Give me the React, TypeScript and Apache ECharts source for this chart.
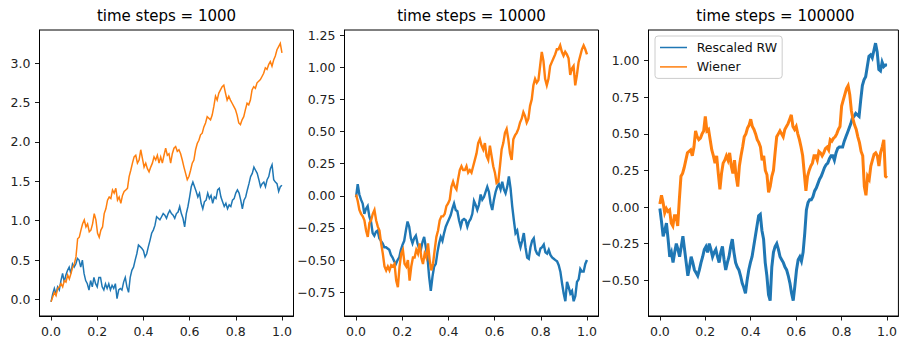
import React, { useEffect, useRef } from 'react';
import * as echarts from 'echarts';

const TITLES = ['time steps = 1000', 'time steps = 10000', 'time steps = 100000'];
const SERIES_NAMES = ['Rescaled RW', 'Wiener'];
const X_TICKS = [0, 0.2, 0.4, 0.6, 0.8, 1.0];
const Y_TICKS = [
  [0, 0.5, 1, 1.5, 2, 2.5, 3],
  [-0.75, -0.5, -0.25, 0, 0.25, 0.5, 0.75, 1, 1.25],
  [-0.5, -0.25, 0, 0.25, 0.5, 0.75, 1],
];
const Y_LIMITS = [[-0.21, 3.42], [-0.935, 1.29], [-0.745, 1.21]];
const Y_DECIMALS = [1, 2, 2];

// time steps = 1000
const P1_RW = [-0.03,0.07,0.14,0.07,0.16,0.12,0.24,0.33,0.22,0.31,0.37,0.41,0.33,0.45,0.41,0.45,0.52,0.5,0.41,0.5,0.33,0.24,0.2,0.12,0.24,0.16,0.28,0.2,0.16,0.28,0.28,0.16,0.12,0.2,0.14,0.2,0.12,0.18,0.14,0.2,0.01,0.12,0.14,0.12,0.22,0.28,0.16,0.09,0.28,0.37,0.41,0.5,0.58,0.69,0.67,0.65,0.62,0.54,0.58,0.67,0.75,0.84,0.88,0.94,1.05,1.03,1.01,1.05,1.09,1.07,1.03,1.09,1.13,1.09,1.07,1.03,1.09,1.11,1.18,1.09,1.03,0.92,1.09,1.18,1.3,1.43,1.49,1.43,1.37,1.3,1.35,1.22,1.15,1.24,1.26,1.35,1.28,1.32,1.22,1.3,1.28,1.39,1.41,1.3,1.24,1.18,1.22,1.15,1.2,1.18,1.26,1.28,1.35,1.39,1.35,1.26,1.15,1.26,1.3,1.39,1.47,1.56,1.6,1.68,1.64,1.6,1.52,1.43,1.47,1.49,1.43,1.52,1.56,1.66,1.71,1.52,1.49,1.47,1.37,1.43,1.45];
const P1_W = [-0.03,0.03,0.09,0.05,0.14,0.16,0.2,0.16,0.24,0.22,0.31,0.26,0.33,0.41,0.45,0.54,0.77,0.79,0.88,0.96,1.01,0.92,0.96,0.86,0.88,0.96,1.09,1.01,0.84,0.79,0.88,0.92,1.09,1.15,1.26,1.3,1.28,1.39,1.35,1.41,1.26,1.3,1.22,1.32,1.37,1.39,1.41,1.56,1.64,1.73,1.81,1.83,1.73,1.77,1.9,1.79,1.68,1.73,1.66,1.62,1.68,1.73,1.81,1.77,1.83,1.73,1.81,1.73,1.83,1.92,1.83,1.85,1.73,1.85,1.92,1.94,1.88,1.9,1.85,1.77,1.68,1.6,1.52,1.56,1.64,1.73,1.77,1.9,1.98,2.02,2.09,2.11,2.19,2.24,2.32,2.3,2.28,2.34,2.45,2.58,2.53,2.62,2.66,2.7,2.72,2.62,2.53,2.58,2.53,2.49,2.45,2.41,2.34,2.24,2.22,2.28,2.32,2.41,2.49,2.47,2.53,2.66,2.7,2.68,2.75,2.77,2.79,2.83,2.87,2.94,2.92,2.98,3.02,2.96,3.04,3.09,3.17,3.21,3.25,3.13];

// time steps = 10000
const P2_RW = [-0.01,0.09,0.01,-0.03,-0.06,-0.14,-0.1,-0.08,-0.16,-0.2,-0.29,-0.31,-0.28,-0.27,-0.33,-0.35,-0.37,-0.4,-0.4,-0.41,-0.42,-0.46,-0.48,-0.51,-0.53,-0.5,-0.48,-0.42,-0.38,-0.35,-0.27,-0.2,-0.24,-0.33,-0.37,-0.33,-0.31,-0.37,-0.41,-0.42,-0.36,-0.32,-0.4,-0.48,-0.63,-0.74,-0.63,-0.55,-0.53,-0.44,-0.37,-0.32,-0.35,-0.29,-0.24,-0.21,-0.18,-0.15,-0.1,-0.06,-0.11,-0.12,-0.19,-0.24,-0.19,-0.18,-0.19,-0.24,-0.2,-0.18,-0.14,-0.04,-0.07,-0.11,-0.07,0.01,-0.03,-0.01,0.03,0.07,0.03,-0.06,-0.11,-0.03,0.03,0.07,0.09,0.05,0.11,0.05,0.02,0.07,0.15,0.06,-0.08,-0.19,-0.29,-0.27,-0.35,-0.4,-0.35,-0.29,-0.4,-0.48,-0.49,-0.4,-0.35,-0.33,-0.42,-0.45,-0.46,-0.41,-0.4,-0.38,-0.44,-0.45,-0.42,-0.46,-0.48,-0.49,-0.5,-0.51,-0.54,-0.59,-0.68,-0.76,-0.82,-0.67,-0.71,-0.76,-0.74,-0.82,-0.78,-0.67,-0.65,-0.57,-0.59,-0.59,-0.53,-0.5];
const P2_W = [0.01,-0.04,-0.11,-0.14,-0.16,-0.19,-0.27,-0.32,-0.21,-0.19,-0.14,-0.11,-0.19,-0.24,-0.27,-0.37,-0.45,-0.55,-0.58,-0.55,-0.58,-0.54,-0.55,-0.53,-0.66,-0.71,-0.55,-0.45,-0.42,-0.53,-0.55,-0.5,-0.66,-0.55,-0.48,-0.48,-0.42,-0.45,-0.37,-0.48,-0.53,-0.45,-0.48,-0.37,-0.5,-0.58,-0.53,-0.42,-0.32,-0.27,-0.19,-0.16,-0.16,-0.14,-0.08,-0.06,-0.03,0.07,0.11,0.07,0.05,0.13,0.2,0.23,0.2,0.2,0.23,0.18,0.2,0.18,0.23,0.28,0.33,0.41,0.44,0.39,0.36,0.41,0.31,0.28,0.39,0.31,0.23,0.18,0.1,0.11,0.23,0.36,0.41,0.49,0.52,0.44,0.33,0.28,0.44,0.47,0.49,0.52,0.57,0.6,0.65,0.62,0.57,0.6,0.7,0.75,0.86,0.91,0.88,0.9,1.01,1.12,1.05,0.91,0.86,0.91,1.01,1.04,1.07,1.1,1.14,1.14,1.17,1.12,1.09,1.12,1.1,1.07,0.94,0.99,1.01,0.86,0.94,1.04,1.09,1.14,1.17,1.14,1.1];

// time steps = 100000
const P3_RW = [-0.01,-0.1,-0.2,-0.16,-0.11,-0.22,-0.34,-0.31,-0.38,-0.31,-0.25,-0.29,-0.34,-0.27,-0.2,-0.29,-0.38,-0.47,-0.41,-0.34,-0.38,-0.43,-0.45,-0.47,-0.43,-0.38,-0.34,-0.29,-0.27,-0.31,-0.25,-0.29,-0.34,-0.31,-0.29,-0.34,-0.38,-0.31,-0.27,-0.36,-0.43,-0.38,-0.34,-0.27,-0.22,-0.31,-0.38,-0.41,-0.43,-0.47,-0.52,-0.55,-0.59,-0.5,-0.43,-0.38,-0.34,-0.27,-0.2,-0.13,-0.06,-0.05,-0.16,-0.22,-0.38,-0.47,-0.6,-0.64,-0.41,-0.31,-0.27,-0.25,-0.29,-0.34,-0.36,-0.38,-0.41,-0.43,-0.47,-0.52,-0.59,-0.64,-0.54,-0.43,-0.36,-0.34,-0.37,-0.31,-0.18,-0.02,0.03,0.05,0.05,0.07,0.11,0.13,0.16,0.19,0.21,0.24,0.27,0.29,0.3,0.33,0.35,0.35,0.32,0.37,0.4,0.41,0.41,0.41,0.45,0.48,0.51,0.54,0.57,0.61,0.62,0.64,0.63,0.62,0.73,0.83,0.87,0.89,0.96,1.03,1.04,1.02,1.07,1.12,1.06,0.94,0.93,0.99,0.96,0.97,0.97];
const P3_W = [0.02,0.08,0.03,-0.04,-0.01,-0.03,-0.02,-0.11,-0.13,-0.06,-0.06,-0.13,0.05,0.21,0.23,0.27,0.32,0.37,0.38,0.39,0.35,0.41,0.52,0.48,0.46,0.47,0.5,0.52,0.62,0.52,0.53,0.46,0.39,0.35,0.3,0.35,0.23,0.12,0.23,0.3,0.32,0.35,0.32,0.37,0.28,0.23,0.32,0.21,0.14,0.28,0.35,0.41,0.48,0.5,0.54,0.56,0.6,0.55,0.53,0.5,0.46,0.44,0.41,0.32,0.35,0.25,0.22,0.1,0.14,0.21,0.25,0.37,0.48,0.5,0.52,0.5,0.48,0.53,0.55,0.57,0.6,0.63,0.55,0.53,0.55,0.5,0.46,0.41,0.35,0.23,0.11,0.21,0.25,0.28,0.3,0.35,0.35,0.32,0.38,0.37,0.35,0.37,0.4,0.41,0.39,0.46,0.45,0.47,0.48,0.5,0.53,0.55,0.69,0.73,0.77,0.81,0.83,0.77,0.66,0.6,0.56,0.53,0.48,0.44,0.38,0.35,0.14,0.08,0.21,0.19,0.28,0.32,0.36,0.37,0.35,0.28,0.37,0.41,0.46,0.21,0.2];

const RW_DATA = [P1_RW, P2_RW, P3_RW];
const W_DATA = [P1_W, P2_W, P3_W];

const FONT = 'DejaVu Sans';
const BLUE = '#1f77b4';
const ORANGE = '#ff7f0e';
const GRID_LEFTS = [39.5, 344.5, 648.5];
const GRID_W = 254;
const GRID_TOP = 30;
const GRID_H = 286;
const LINE_W = [1.5, 2.4, 3.0];

const toPts = (ys: number[]) => ys.map((y, i) => [i / (ys.length - 1), y]);
const fmt = (v: number, d: number) => (v < 0 ? '\u2212' : '') + Math.abs(v).toFixed(d);

function buildOption() {
  const grid = GRID_LEFTS.map((left) => ({
    left, top: GRID_TOP, width: GRID_W, height: GRID_H,
    show: true, borderColor: '#000', borderWidth: 1, backgroundColor: 'transparent',
  }));
  const xAxis = GRID_LEFTS.map((_, i) => ({
    type: 'value', gridIndex: i, min: -0.05, max: 1.05,
    axisLine: { show: true, onZero: false, lineStyle: { color: '#000', width: 1 } },
    splitLine: { show: false },
    axisTick: { show: true, inside: false, length: 4.5, customValues: X_TICKS, lineStyle: { color: '#000', width: 0.9 } },
    axisLabel: { customValues: X_TICKS, formatter: (v: number) => fmt(v, 1), color: '#222', fontSize: 12.5, fontFamily: FONT, margin: 9 },
  }));
  const yAxis = GRID_LEFTS.map((_, i) => ({
    type: 'value', gridIndex: i, min: Y_LIMITS[i][0], max: Y_LIMITS[i][1],
    axisLine: { show: true, onZero: false, lineStyle: { color: '#000', width: 1 } },
    splitLine: { show: false },
    axisTick: { show: true, inside: false, length: 4.5, customValues: Y_TICKS[i], lineStyle: { color: '#000', width: 0.9 } },
    axisLabel: { customValues: Y_TICKS[i], formatter: (v: number) => fmt(v, Y_DECIMALS[i]), color: '#222', fontSize: 12.5, fontFamily: FONT, margin: 9 },
  }));
  const series: any[] = [];
  for (let i = 0; i < 3; i++) {
    series.push({
      type: 'line', name: SERIES_NAMES[0], xAxisIndex: i, yAxisIndex: i,
      data: toPts(RW_DATA[i]), showSymbol: false, symbol: 'none',
      lineStyle: { color: BLUE, width: LINE_W[i], join: 'miter' }, itemStyle: { color: BLUE }, z: 2,
    });
    series.push({
      type: 'line', name: SERIES_NAMES[1], xAxisIndex: i, yAxisIndex: i,
      data: toPts(W_DATA[i]), showSymbol: false, symbol: 'none',
      lineStyle: { color: ORANGE, width: LINE_W[i], join: 'miter' }, itemStyle: { color: ORANGE }, z: 3,
    });
  }
  const graphic = TITLES.map((t, i) => ({
    type: 'text', x: GRID_LEFTS[i] + GRID_W / 2, y: 15.5,
    style: { text: t, font: `15px "${FONT}"`, fill: '#000', align: 'center', verticalAlign: 'middle', textAlign: 'center', textVerticalAlign: 'middle' },
  }));
  return {
    animation: false,
    backgroundColor: '#fff',
    grid, xAxis, yAxis, series, graphic,
    legend: {
      show: true, data: SERIES_NAMES, orient: 'vertical', left: 655, top: 36,
      itemWidth: 27, itemHeight: 1.5, icon: 'rect', itemGap: 4.4,
      padding: [4, 5, 4, 5], backgroundColor: 'rgba(255,255,255,0.8)',
      borderColor: '#ccc', borderWidth: 1, borderRadius: 3, selectedMode: false,
      textStyle: { fontSize: 12.5, fontFamily: FONT, color: '#111', lineHeight: 15, padding: [0, 0, 0, 4.7] },
    },
  };
}

export default function App() {
  const ref = useRef<HTMLDivElement>(null);
  useEffect(() => {
    if (!ref.current) return;
    const chart = echarts.init(ref.current, null, { renderer: 'svg' });
    chart.setOption(buildOption() as any);
    return () => chart.dispose();
  }, []);
  return <div ref={ref} style={{ position: 'absolute', left: 0, top: 0, width: 900, height: 342, background: '#fff' }} />;
}
